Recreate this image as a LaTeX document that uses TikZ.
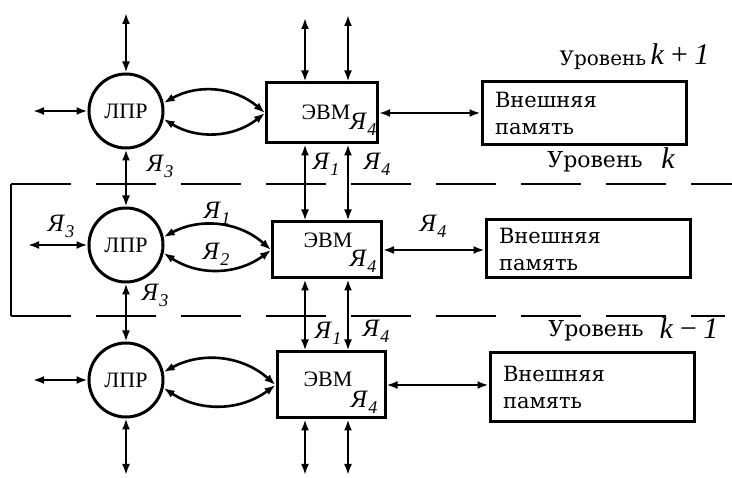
\documentclass[tikz,border=0pt]{standalone}
\usepackage{fontspec}
\setmainfont{Liberation Serif}
\newfontfamily\typefont{DejaVu Serif}
\usepackage{tikz}
\usetikzlibrary{arrows.meta, positioning}

\newcommand{\yalab}[1]{\textit{Я}\raisebox{-6pt}{\fontsize{18}{18}\selectfont\itshape #1}}

\begin{document}
\begin{tikzpicture}[
    x=1pt, y=-1pt,
    >={Latex[length=11pt,width=8pt]},
    lpr/.style={draw, circle, line width=3pt, minimum size=74pt, inner sep=0pt, font=\fontsize{22}{22}\selectfont},
    evm/.style={draw, rectangle, line width=3pt, inner sep=0pt},
    evmtext/.style={font=\fontsize{22}{22}\selectfont, inner sep=0pt},
    mem/.style={draw, rectangle, line width=3pt, minimum width=204pt, text width=178pt, align=left, font=\typefont\fontsize{21}{27}\selectfont},
    link/.style={<->, line width=2.6pt},
    lvl/.style={dash pattern=on 60pt off 25pt, line width=2.4pt},
    ya/.style={font=\fontsize{25}{25}\selectfont, inner sep=0pt},
    level/.style={font=\typefont\fontsize{22}{22}\selectfont, inner sep=0pt},
    levelk/.style={font=\itshape\fontsize{30}{30}\selectfont, inner sep=0pt}
  ]

  \useasboundingbox (0,0) rectangle (732,478);

  % Level k+1
  \node[lpr] (lpr1) at (126,111) {ЛПР};
  \node[evm, minimum width=111pt, minimum height=60pt] (evm1) at (322,113) {};
  \node[evmtext] (evm1txt) at (326,112) {ЭВМ};
  \node[ya] (evm1ya) at (363,124) {\yalab{4}};
  \node[mem, minimum height=63pt] (mem1) at (584,113) {Внешняя\\память};

  % Level k
  \node[lpr] (lpr2) at (126,245) {ЛПР};
  \node[evm, minimum width=109pt, minimum height=56pt] (evm2) at (327,250) {};
  \node[evmtext] (evm2txt) at (328,240) {ЭВМ};
  \node[ya] (evm2ya) at (363,261) {\yalab{4}};
  \node[mem, minimum height=58pt] (mem2) at (588,249) {Внешняя\\память};

  % Level k-1
  \node[lpr] (lpr3) at (126,380) {ЛПР};
  \node[evm, minimum width=108pt, minimum height=66pt] (evm3) at (331,385) {};
  \node[evmtext] (evm3txt) at (328,379) {ЭВМ};
  \node[ya] (evm3ya) at (364,402) {\yalab{4}};
  \node[mem, minimum height=69pt] (mem3) at (592,387) {Внешняя\\память};

  % Level borders
  \coordinate (brTop) at (11,184);
  \coordinate (brBot) at (11,316);
  \coordinate (brTopEnd) at (732,184);
  \coordinate (brBotEnd) at (725,316);
  \draw[lvl] (brTop) -- (brTopEnd);
  \draw[lvl] (brBot) -- (brBotEnd);
  \draw[line width=2.4pt] (brTop) -- (brBot);

  \node[level, font=\typefont\fontsize{20}{20}\selectfont] (lvl1) at (603,60) {Уровень};
  \node[levelk] (lvl1k) at (680,54) {k\,+\,1};
  \node[level] (lvl2) at (595,162) {Уровень};
  \node[levelk] (lvl2k) at (668,158) {k};
  \node[level] (lvl3) at (596,331) {Уровень};
  \node[levelk] (lvl3k) at (689,328) {k\,−\,1};

  % Decision makers
  \coordinate (lprTop) at (126,13);
  \coordinate (lprBot) at (126,475);
  \coordinate (lpr1left) at (33,111);
  \coordinate (lpr2left) at (28,245);
  \coordinate (lpr3left) at (33,380);
  \draw[link] (lprTop) -- (lpr1);
  \draw[link] (lpr1) -- (lpr2);
  \draw[link] (lpr2) -- (lpr3);
  \draw[link] (lpr3) -- (lprBot);
  \draw[link] (lpr1left) -- (lpr1);
  \draw[link] (lpr2left) -- (lpr2);
  \draw[link] (lpr3left) -- (lpr3);

  \node[ya] (ya3a) at (160,166) {\yalab{3}};
  \node[ya] (ya3b) at (61,226) {\yalab{3}};
  \node[ya] (ya3c) at (155,295) {\yalab{3}};

  % Dialogue with computer
  \foreach \i in {1,2,3}{
    \draw[link] (lpr\i.12) to[bend left=35] (evm\i.west);
    \draw[link] (lpr\i.-12) to[bend right=35] (evm\i.west);
  }
  \node[ya] (ya1d) at (217,213) {\yalab{1}};
  \node[ya] (ya2d) at (216,254) {\yalab{2}};

  % Computer links
  \coordinate (evmTopA) at (305,18);
  \coordinate (evmTopB) at (348,15);
  \coordinate (evmBotA) at (305,475);
  \coordinate (evmBotB) at (348,475);
  \draw[link] (evmTopA) -- (evmTopA |- evm1.north);
  \draw[link] (evmTopB) -- (evmTopB |- evm1.north);
  \draw[link] (evm1.south -| evmTopA) -- (evm2.north -| evmTopA);
  \draw[link] (evm1.south -| evmTopB) -- (evm2.north -| evmTopB);
  \draw[link] (evm2.south -| evmTopA) -- (evm3.north -| evmTopA);
  \draw[link] (evm2.south -| evmTopB) -- (evm3.north -| evmTopB);
  \draw[link] (evm3.south -| evmBotA) -- (evmBotA);
  \draw[link] (evm3.south -| evmBotB) -- (evmBotB);

  \node[ya] (ya1a) at (326,164) {\yalab{1}};
  \node[ya] (ya4a) at (377,164) {\yalab{4}};
  \node[ya] (ya1b) at (328,333) {\yalab{1}};
  \node[ya] (ya4b) at (376,331) {\yalab{4}};

  % External memory
  \foreach \i in {1,2,3}{
    \draw[link] (evm\i.east) -- (evm\i.east -| mem\i.west);
  }
  \node[ya] (ya4m) at (433,226) {\yalab{4}};

\end{tikzpicture}
\end{document}
